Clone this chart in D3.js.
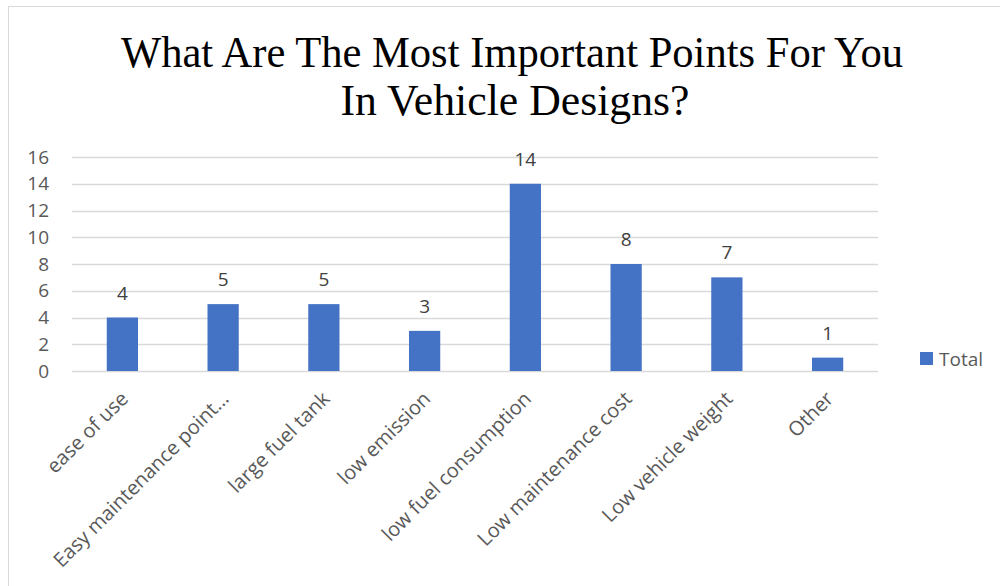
<!DOCTYPE html>
<html>
<head>
<meta charset="utf-8">
<script src="https://cdn.jsdelivr.net/npm/d3@7"></script>
<style>
  body { margin: 0; background: #fff; }
  svg { display: block; }
</style>
</head>
<body>
<div id="chart"></div>
<script>
const categories = ["ease of use", "Easy maintenance point…", "large fuel tank", "low emission",
    "low fuel consumption", "Low maintenance cost", "Low vehicle weight", "Other"];
const totals = [4, 5, 5, 3, 14, 8, 7, 1];
const yTicks = [0, 2, 4, 6, 8, 10, 12, 14, 16];
const titleLines = ["What Are The Most Important Points For You", "In Vehicle Designs?"];
const seriesName = "Total";

const width = 1000, height = 586;
const svg = d3.select("#chart").append("svg").attr("width", width).attr("height", height);

// chart frame (only left/top edges visible in the picture)
svg.append("rect").attr("x", 8.5).attr("y", 6.5).attr("width", 1100).attr("height", 700)
    .attr("fill", "none").attr("stroke", "#d9d9d9");

const plot = { left: 72, right: 878, top: 157, bottom: 371 };

const x = d3.scaleBand().domain(categories).range([plot.left, plot.right]).paddingInner(0.69).paddingOuter(0.345);
const y = d3.scaleLinear().domain([0, 16]).range([plot.bottom, plot.top]);

// title
const title = svg.append("g").attr("font-family", "'Liberation Serif', 'Times New Roman', serif")
    .attr("font-size", 44).attr("fill", "#000");
title.append("text").attr("x", 512).attr("y", 67).attr("text-anchor", "middle")
    .attr("textLength", 782).attr("lengthAdjust", "spacingAndGlyphs").text(titleLines[0]);
title.append("text").attr("x", 515).attr("y", 115).attr("text-anchor", "middle")
    .attr("textLength", 349).attr("lengthAdjust", "spacingAndGlyphs").text(titleLines[1]);

// gridlines
svg.append("g").selectAll("line").data(yTicks).join("line")
    .attr("x1", plot.left).attr("x2", plot.right)
    .attr("y1", d => Math.round(y(d)) + 0.5).attr("y2", d => Math.round(y(d)) + 0.5)
    .attr("stroke", "#d9d9d9").attr("stroke-width", 1.5);

const labelFont = "'Open Sans', 'Noto Sans', sans-serif";

// y axis
const yAxis = svg.append("g").attr("transform", `translate(${plot.left},0)`)
    .call(d3.axisLeft(y).tickValues(yTicks).tickSize(0).tickPadding(23));
yAxis.select(".domain").remove();
yAxis.selectAll("text").attr("font-family", labelFont).attr("font-size", 19).attr("fill", "#595959");

// bars
svg.append("g").selectAll("rect").data(totals).join("rect")
    .attr("x", (d, i) => x(categories[i]))
    .attr("y", d => y(d))
    .attr("width", x.bandwidth())
    .attr("height", d => y(0) - y(d))
    .attr("fill", "#4472c4");

// value labels
svg.append("g").selectAll("text").data(totals).join("text")
    .attr("x", (d, i) => x(categories[i]) + x.bandwidth() / 2)
    .attr("y", d => y(d) - 18)
    .attr("text-anchor", "middle")
    .attr("font-family", labelFont).attr("font-size", 19).attr("fill", "#404040")
    .text(d => d);

// x axis labels
const xAxis = svg.append("g").attr("transform", `translate(0,${plot.bottom})`)
    .call(d3.axisBottom(x).tickSize(0));
xAxis.select(".domain").remove();
xAxis.selectAll("text")
    .attr("font-family", labelFont).attr("font-size", 20).attr("fill", "#595959")
    .attr("text-anchor", "end")
    .attr("dy", null).attr("y", 0)
    .attr("transform", "translate(7,29) rotate(-45)");

// legend
const legend = svg.append("g").attr("transform", "translate(920,352)");
legend.append("rect").attr("width", 13).attr("height", 13).attr("fill", "#4472c4");
legend.append("text").attr("x", 19).attr("y", 13.5)
    .attr("font-family", labelFont).attr("font-size", 19).attr("fill", "#595959").text(seriesName);
</script>
</body>
</html>
